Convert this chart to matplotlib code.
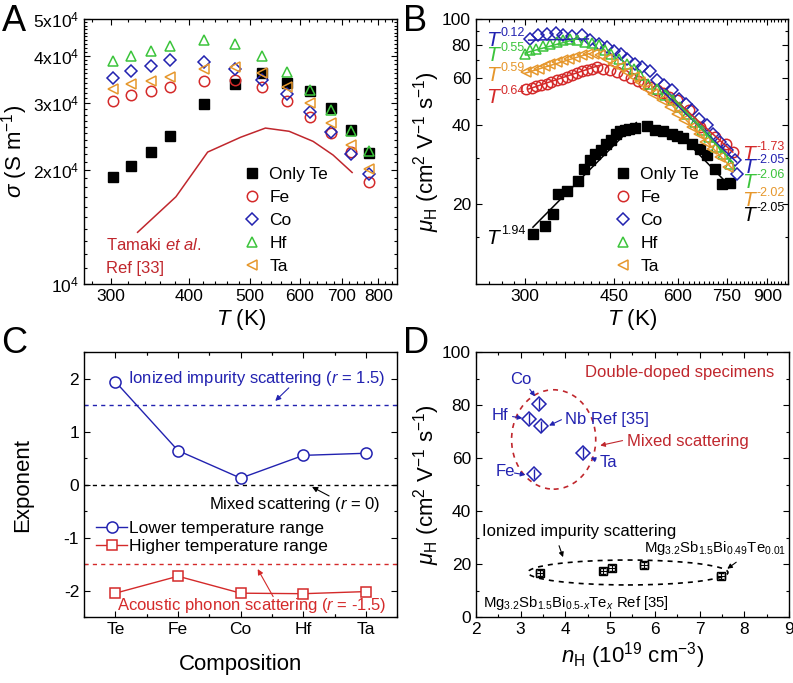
import matplotlib
matplotlib.use('Agg')
import matplotlib.pyplot as plt
from matplotlib.ticker import FixedLocator, NullFormatter
from matplotlib.patches import Ellipse

plt.rcParams['font.family'] = ['Liberation Sans', 'DejaVu Sans']
plt.rcParams['mathtext.fontset'] = 'custom'
plt.rcParams['mathtext.rm'] = 'Liberation Sans'
plt.rcParams['mathtext.it'] = 'Liberation Sans:italic'
plt.rcParams['mathtext.bf'] = 'Liberation Sans:bold'
plt.rcParams['axes.unicode_minus'] = False
plt.rcParams['font.size'] = 12

RED = '#d42a2a'
BLUE = '#2222b0'
GREEN = '#3cc43c'
ORANGE = '#e6972c'
DARKRED = '#c0272d'

# ---- panel A: electrical conductivity ----
T_a = [303, 323, 348, 373, 423, 473, 523, 573, 623, 673, 723, 773]
sig_te = [1.92e4, 2.05e4, 2.23e4, 2.46e4, 2.98e4, 3.37e4, 3.6e4, 3.4e4, 3.23e4, 2.91e4, 2.55e4, 2.22e4]
sig_fe = [3.04e4, 3.15e4, 3.23e4, 3.31e4, 3.43e4, 3.45e4, 3.31e4, 3.04e4, 2.76e4, 2.5e4, 2.23e4, 1.86e4]
sig_co = [3.49e4, 3.65e4, 3.76e4, 3.9e4, 3.85e4, 3.69e4, 3.45e4, 3.17e4, 2.84e4, 2.52e4, 2.2e4, 1.95e4]
sig_hf = [3.88e4, 4.0e4, 4.12e4, 4.25e4, 4.4e4, 4.3e4, 4.0e4, 3.62e4, 3.25e4, 2.88e4, 2.53e4, 2.24e4]
sig_ta = [3.27e4, 3.37e4, 3.43e4, 3.52e4, 3.69e4, 3.74e4, 3.6e4, 3.31e4, 3.0e4, 2.66e4, 2.33e4, 2.01e4]
T_tamaki = [331, 381, 428, 483, 529, 577, 630, 678, 727]
sig_tamaki = [1.37e4, 1.7e4, 2.23e4, 2.44e4, 2.58e4, 2.53e4, 2.38e4, 2.19e4, 1.97e4]

# ---- panel B: Hall mobility ----
T_b_te = [311, 329, 341, 348, 363, 382, 392, 402, 412, 423, 433, 443, 453, 461, 472, 481, 493,
          521, 541, 562, 584, 597, 614, 640, 664, 684, 711, 733, 759]
mu_b_te = [15.4, 16.6, 18.4, 21.9, 22.4, 24.4, 27.1, 29.5, 30.9, 32.2, 33.7, 35.1, 36.7, 37.8, 38.3,
           38.6, 38.8, 39.5, 38.3, 37.8, 37.0, 36.1, 35.7, 33.7, 32.4, 30.6, 27.3, 23.8, 24.1]
T_b_fe = [302, 309, 316, 323, 331, 338, 347, 355, 363, 371, 379, 388, 397, 406, 415, 428, 441,
          455, 470, 485, 500, 515, 530, 545, 560, 577, 598, 630, 664, 711, 745, 772]
mu_b_fe = [54.7, 55.1, 55.7, 56.2, 57.1, 57.9, 58.8, 59.6, 60.5, 61.4, 62.6, 63.7, 64.4, 65.0, 66.0,
           65.0, 64.1, 63.0, 61.5, 60.0, 58.5, 57.0, 55.5, 54.0, 52.5, 51.0, 49.4, 45.3, 39.2, 35.9,
           33.9, 31.5]
T_b_co = [307, 318, 331, 345, 357, 371, 389, 403, 419, 435, 449, 463, 477, 493, 510, 528, 546,
          564, 584, 604, 622, 640, 659, 684, 705, 727, 750, 778, 783]
mu_b_co = [84.4, 86.9, 88.1, 88.9, 86.9, 86.1, 86.9, 83.6, 80.8, 78.5, 75.8, 73.6, 70.9, 67.9, 66.0,
           63.5, 58.8, 56.2, 54.2, 50.1, 48.0, 45.3, 42.1, 39.7, 37.0, 34.4, 32.0, 29.3, 26.1]
T_b_hf = [300, 307, 316, 326, 336, 347, 357, 368, 379, 394, 406, 419, 432, 444, 460, 476, 491,
          506, 525, 545, 567, 588, 607, 625, 648, 669, 690, 714, 738, 761]
mu_b_hf = [74.1, 76.2, 77.4, 79.0, 80.3, 82.0, 83.6, 84.4, 83.6, 82.0, 81.2, 79.6, 76.2, 74.1, 70.9,
           67.9, 65.0, 61.4, 57.1, 54.7, 51.5, 49.4, 46.6, 44.0, 40.9, 38.0, 35.9, 32.9, 31.1, 28.5]
T_b_ta = [302, 311, 319, 328, 336, 347, 356, 366, 376, 388, 400, 410, 422, 435, 448, 462, 476,
          491, 506, 521, 537, 558, 579, 598, 617, 640, 660, 679, 700, 727, 755]
mu_b_ta = [63.2, 64.1, 65.0, 66.3, 67.9, 68.9, 69.9, 70.9, 71.9, 73.0, 74.1, 73.6, 73.0, 70.9, 67.9,
           66.0, 63.2, 60.5, 57.9, 54.7, 52.3, 49.4, 46.6, 44.0, 41.5, 39.2, 37.0, 34.4, 32.4, 30.2,
           27.7]

# power-law fit segments (end points)
fit_te_low = ([311, 497], [16.4, 40.7])
fit_te_high = ([620, 760], [35.0, 23.4])
fit_fe_low = ([305, 420], [54.5, 66.9])
fit_fe_high = ([580, 770], [51.4, 31.5])
fit_co_low = ([305, 400], [83.3, 84.2])
fit_co_high = ([562, 783], [53.1, 28.9])
fit_hf_low = ([300, 380], [74.5, 84.3])
fit_hf_high = ([570, 770], [53.5, 28.8])
fit_ta_low = ([300, 400], [62.5, 74.0])
fit_ta_high = ([570, 765], [49.8, 27.5])

# exponent labels in panel B
lab_low = ['0.12', '0.55', '0.59', '0.64']
lab_low_mu = [83.2, 73.0, 61.5, 50.5]
lab_high = ['-1.73', '-2.05', '-2.06', '-2.02', '-2.05']
lab_high_mu = [30.9, 27.6, 24.2, 20.7, 18.2]

# ---- panel C: exponents ----
comp = ['Te', 'Fe', 'Co', 'Hf', 'Ta']
exp_low = [1.94, 0.64, 0.12, 0.55, 0.59]
exp_high = [-2.05, -1.73, -2.05, -2.06, -2.02]

# ---- panel D: mobility vs carrier concentration ----
dd_n = [3.41, 3.19, 3.45, 4.39, 3.30]
dd_mu = [80.5, 74.8, 72.0, 62.0, 54.0]
te_n = [3.43, 4.85, 5.04, 5.76, 7.48]
te_mu = [16.7, 17.4, 18.6, 19.6, 15.5]

fig = plt.figure(figsize=(7.93, 6.83), dpi=100)
axA = fig.add_axes([0.106, 0.584, 0.395, 0.388])
axB = fig.add_axes([0.600, 0.584, 0.394, 0.388])
axC = fig.add_axes([0.106, 0.0966, 0.395, 0.388])
axD = fig.add_axes([0.600, 0.0966, 0.395, 0.388])


def style(ax):
    ax.tick_params(which='both', direction='in', top=True, right=True, width=0.8, labelsize=12.5)
    ax.tick_params(which='major', length=4.5)
    ax.tick_params(which='minor', length=2.5)
    for s in ax.spines.values():
        s.set_linewidth(1.0)


def power_label(ax, x, y, exp, color, dx=11, dy=5):
    ax.text(x, y, 'T', style='italic', fontsize=15, color=color, ha='left', va='center')
    ax.annotate(exp, xy=(x, y), xytext=(dx, dy), textcoords='offset points',
                fontsize=9, color=color, ha='left', va='center')


mk = dict(ls='none', ms=7.5, mew=1.1, mfc='none')

# A
axA.plot(T_a, sig_te, 's', color='black', ms=7, ls='none', label='Only Te')
axA.plot(T_a, sig_fe, 'o', color=RED, label='Fe', **mk)
axA.plot(T_a, sig_co, 'D', color=BLUE, label='Co', **dict(mk, ms=6.5))
axA.plot(T_a, sig_hf, '^', color=GREEN, label='Hf', **mk)
axA.plot(T_a, sig_ta, '<', color=ORANGE, label='Ta', **mk)
axA.plot(T_tamaki, sig_tamaki, '-', color=DARKRED, lw=1.1)
axA.set_xscale('log')
axA.set_yscale('log')
axA.set_xlim(272, 858)
axA.set_ylim(1e4, 5e4)
axA.xaxis.set_major_locator(FixedLocator([300, 400, 500, 600, 700, 800]))
axA.set_xticklabels(['300', '400', '500', '600', '700', '800'])
axA.xaxis.set_minor_locator(FixedLocator(list(range(280, 860, 20))))
axA.xaxis.set_minor_formatter(NullFormatter())
axA.yaxis.set_major_locator(FixedLocator([1e4, 2e4, 3e4, 4e4, 5e4]))
axA.set_yticklabels([r'10$^4$', r'2x10$^4$', r'3x10$^4$', r'4x10$^4$', r'5x10$^4$'])
axA.yaxis.set_minor_locator(FixedLocator([v * 1000 for v in range(10, 51)]))
axA.yaxis.set_minor_formatter(NullFormatter())
axA.set_xlabel(r'$T$ (K)', fontsize=16, labelpad=2)
axA.set_ylabel(r'$\sigma$ (S m$^{-1}$)', fontsize=16, labelpad=2)
axA.text(295, 1.27e4, r'Tamaki $et\ al.$', color=DARKRED, fontsize=12, va='center')
axA.text(295, 1.10e4, 'Ref [33]', color=DARKRED, fontsize=12, va='center')
axA.legend(loc='lower left', bbox_to_anchor=(0.475, 0.0), frameon=False, fontsize=12.5,
           handlelength=1.0, handletextpad=0.5, labelspacing=0.45, borderaxespad=0.2)
style(axA)

# B
axB.plot(T_b_te, mu_b_te, 's', color='black', ms=7, ls='none', label='Only Te')
axB.plot(T_b_fe, mu_b_fe, 'o', color=RED, label='Fe', **mk)
axB.plot(T_b_co, mu_b_co, 'D', color=BLUE, label='Co', **dict(mk, ms=6.5))
axB.plot(T_b_hf, mu_b_hf, '^', color=GREEN, label='Hf', **mk)
axB.plot(T_b_ta, mu_b_ta, '<', color=ORANGE, label='Ta', **mk)
for seg, c in [(fit_te_low, 'black'), (fit_te_high, 'black'), (fit_fe_low, RED), (fit_fe_high, RED),
               (fit_co_low, BLUE), (fit_co_high, BLUE), (fit_hf_low, GREEN), (fit_hf_high, GREEN),
               (fit_ta_low, ORANGE), (fit_ta_high, ORANGE)]:
    axB.plot(seg[0], seg[1], '-', color=c, lw=1.1)
axB.set_xscale('log')
axB.set_yscale('log')
axB.set_xlim(240, 990)
axB.set_ylim(10, 100)
axB.xaxis.set_major_locator(FixedLocator([300, 450, 600, 750, 900]))
axB.set_xticklabels(['300', '450', '600', '750', '900'])
axB.xaxis.set_minor_locator(FixedLocator(list(range(240, 991, 15))))
axB.xaxis.set_minor_formatter(NullFormatter())
axB.yaxis.set_major_locator(FixedLocator([20, 40, 60, 80, 100]))
axB.set_yticklabels(['20', '40', '60', '80', '100'])
axB.yaxis.set_minor_locator(FixedLocator([10, 15, 30, 50, 70, 90]))
axB.yaxis.set_minor_formatter(NullFormatter())
axB.set_xlabel(r'$T$ (K)', fontsize=16, labelpad=2)
axB.set_ylabel(r'$\mu_{\mathrm{H}}$ (cm$^2$ V$^{-1}$ s$^{-1}$)', fontsize=16, labelpad=0)
for txt, y, c in zip(lab_low, lab_low_mu, [BLUE, GREEN, ORANGE, RED]):
    power_label(axB, 251, y, txt, c)
power_label(axB, 251, 14.9, '1.94', 'black')
for txt, y, c in zip(lab_high, lab_high_mu, [RED, BLUE, GREEN, ORANGE, 'black']):
    power_label(axB, 804, y, txt, c, dx=10, dy=5)
axB.legend(loc='lower left', bbox_to_anchor=(0.41, 0.0), frameon=False, fontsize=12.5,
           handlelength=1.0, handletextpad=0.5, labelspacing=0.45, borderaxespad=0.2)
style(axB)

# C
xc = list(range(len(comp)))
axC.plot(xc, exp_low, '-o', color=BLUE, lw=1.0, ms=8, mfc='white', mew=1.1,
         label='Lower temperature range')
axC.plot(xc, exp_high, '-s', color=RED, lw=1.0, ms=7.5, mfc='white', mew=1.1,
         label='Higher temperature range')
axC.axhline(1.5, color=BLUE, ls=(0, (3, 3)), lw=1.0)
axC.axhline(0, color='black', ls=(0, (3, 3)), lw=1.0)
axC.axhline(-1.5, color=RED, ls=(0, (3, 3)), lw=1.0)
axC.set_xlim(-0.5, 4.5)
axC.set_ylim(-2.5, 2.5)
axC.set_xticks(xc)
axC.set_xticklabels(comp)
axC.set_xticks([-0.5 + i for i in range(6)] + [0.5 + i for i in range(4)], minor=True)
axC.set_yticks([-2, -1, 0, 1, 2])
axC.set_yticks([-2.5, -1.5, -0.5, 0.5, 1.5, 2.5], minor=True)
axC.set_xlabel('Composition', fontsize=16, labelpad=12)
axC.set_ylabel('Exponent', fontsize=16, labelpad=22)
axC.text(0.2, 2.0, r'Ionized impurity scattering ($r$ = 1.5)', color=BLUE, fontsize=12, va='center')
axC.annotate('', xy=(2.52, 1.54), xytext=(2.8, 1.86),
             arrowprops=dict(arrowstyle='-|>', color=BLUE, lw=0.8, mutation_scale=8))
axC.text(1.49, -0.37, r'Mixed scattering ($r$ = 0)', color='black', fontsize=12, va='center')
axC.annotate('', xy=(3.1, -0.02), xytext=(3.45, -0.24),
             arrowprops=dict(arrowstyle='-|>', color='black', lw=0.8, mutation_scale=8))
axC.text(0.03, -2.29, r'Acoustic phonon scattering ($r$ = -1.5)', color=RED, fontsize=12, va='center')
axC.annotate('', xy=(2.25, -1.55), xytext=(2.54, -2.16),
             arrowprops=dict(arrowstyle='-|>', color=RED, lw=0.8, mutation_scale=8))
axC.legend(loc='upper left', bbox_to_anchor=(0.0, 0.41), frameon=False, fontsize=12.5,
           handlelength=1.8, handletextpad=0.1, labelspacing=0.2, borderaxespad=0.3)
style(axC)

# D
axD.errorbar(dd_n, dd_mu, yerr=2.0, fmt='D', color=BLUE, ms=7, mfc='none', mew=1.1,
             elinewidth=1.0, capsize=0)
axD.errorbar(te_n, te_mu, xerr=0.08, yerr=1.2, fmt='s', color='black', ms=6, mfc='none', mew=1.0,
             elinewidth=0.8, capsize=2.5)
axD.add_patch(Ellipse((3.74, 67.0), 1.88, 37.5, fill=False, ec=DARKRED, ls=(0, (3, 3)), lw=1.2))
axD.add_patch(Ellipse((5.4, 16.8), 4.47, 9.4, fill=False, ec='black', ls=(0, (3, 3)), lw=1.2))
axD.set_xlim(2, 9)
axD.set_ylim(0, 100)
axD.set_xticks(range(2, 10))
axD.set_xticks([2.5 + i for i in range(7)], minor=True)
axD.set_yticks(range(0, 101, 20))
axD.set_yticks(range(10, 100, 20), minor=True)
axD.set_xlabel(r'$n_{\mathrm{H}}$ (10$^{19}$ cm$^{-3}$)', fontsize=16, labelpad=2)
axD.set_ylabel(r'$\mu_{\mathrm{H}}$ (cm$^2$ V$^{-1}$ s$^{-1}$)', fontsize=16, labelpad=0)
axD.text(6.55, 92.2, 'Double-doped specimens', color=DARKRED, fontsize=12, ha='center', va='center')
arrow_b = dict(arrowstyle='-|>', color=BLUE, lw=0.8, mutation_scale=7)
axD.text(3.01, 89.7, 'Co', color=BLUE, fontsize=12, ha='center', va='center')
axD.annotate('', xy=(3.36, 82.4), xytext=(3.17, 86.8), arrowprops=arrow_b)
axD.text(2.54, 76.2, 'Hf', color=BLUE, fontsize=12, ha='center', va='center')
axD.annotate('', xy=(3.1, 74.9), xytext=(2.76, 75.8), arrowprops=arrow_b)
axD.text(3.99, 74.5, 'Nb Ref [35]', color=BLUE, fontsize=12, va='center')
axD.annotate('', xy=(3.58, 71.8), xytext=(3.97, 74.9), arrowprops=arrow_b)
axD.text(4.76, 58.2, 'Ta', color=BLUE, fontsize=12, va='center')
axD.annotate('', xy=(4.51, 60.5), xytext=(4.74, 59.0), arrowprops=arrow_b)
axD.text(2.65, 54.8, 'Fe', color=BLUE, fontsize=12, ha='center', va='center')
axD.annotate('', xy=(3.17, 53.5), xytext=(2.8, 54.5), arrowprops=arrow_b)
axD.text(5.39, 66.4, 'Mixed scattering', color=DARKRED, fontsize=12, va='center')
axD.annotate('', xy=(4.72, 64.5), xytext=(5.34, 66.8),
             arrowprops=dict(arrowstyle='-|>', color=DARKRED, lw=0.8, mutation_scale=7))
axD.text(2.13, 32.2, 'Ionized impurity scattering', color='black', fontsize=12, va='center')
axD.annotate('', xy=(3.97, 21.6), xytext=(3.84, 27.9),
             arrowprops=dict(arrowstyle='-|>', color='black', lw=0.8, mutation_scale=7))
axD.text(5.76, 26.0, r'Mg$_{3.2}$Sb$_{1.5}$Bi$_{0.49}$Te$_{0.01}$', color='black', fontsize=10.7,
         va='center')
axD.annotate('', xy=(7.57, 17.6), xytext=(7.87, 21.3),
             arrowprops=dict(arrowstyle='-|>', color='black', lw=0.8, mutation_scale=7))
axD.text(2.15, 5.3, r'Mg$_{3.2}$Sb$_{1.5}$Bi$_{0.5\text{-}x}$Te$_x$ Ref [35]', color='black',
         fontsize=10.7, va='center')
style(axD)

for lab, x, y in [('A', 0.002, 0.968), ('B', 0.508, 0.968), ('C', 0.002, 0.497), ('D', 0.508, 0.497)]:
    fig.text(x, y, lab, fontsize=26, va='center', ha='left')

fig.savefig('out.png', dpi=100)
